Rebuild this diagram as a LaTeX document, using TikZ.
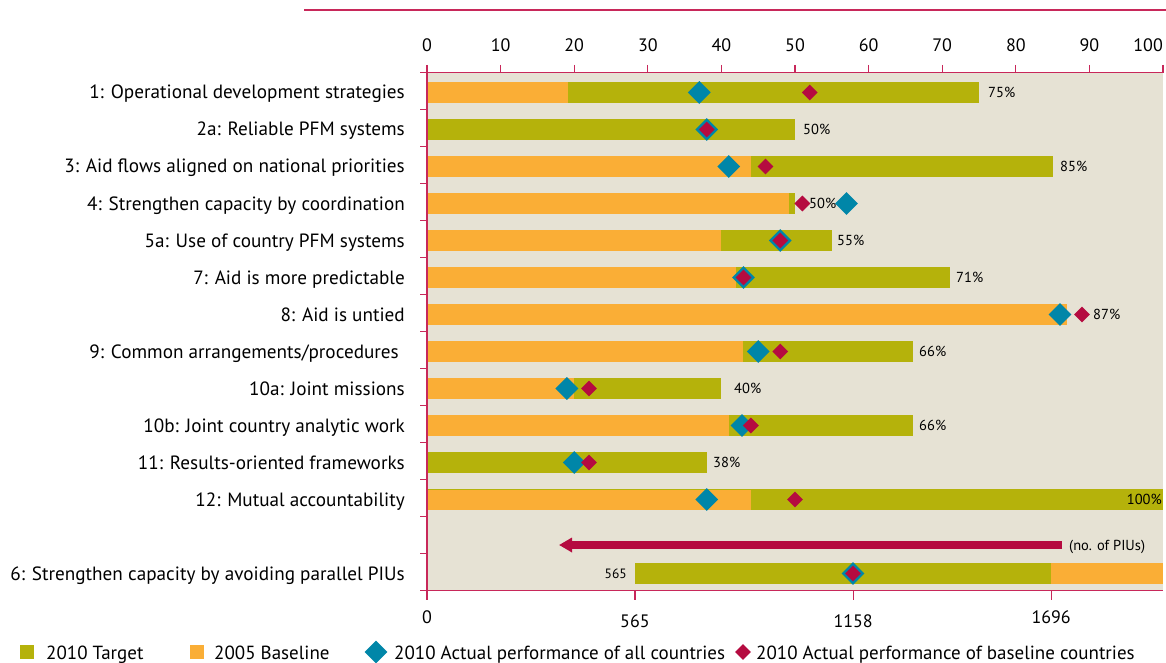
\documentclass[tikz,border=0pt]{standalone}
\usepackage{fontspec}
\setmainfont{PT Sans}
\usetikzlibrary{shapes.geometric,arrows.meta}
\definecolor{tgt}{HTML}{B5B20B}
\definecolor{base}{HTML}{FAAE36}
\definecolor{bgc}{HTML}{E6E2D4}
\definecolor{blu}{HTML}{0086A8}
\definecolor{rd}{HTML}{B50B40}
\definecolor{ax}{HTML}{C8285A}
\begin{document}
\begin{tikzpicture}[x=1pt,y=-1pt,
 lab/.style={anchor=base east,font=\fontsize{19.2}{22}\selectfont,inner sep=0},
 pct/.style={anchor=base west,font=\fontsize{14.5}{17}\selectfont,inner sep=0},
 ticklab/.style={anchor=base,font=\fontsize{18}{21}\selectfont,inner sep=0},
 leg/.style={anchor=base west,font=\fontsize{19}{22}\selectfont,inner sep=0},
 bdia/.style={diamond,fill=blu,inner sep=0,minimum width=23pt,minimum height=23pt},
 rdia/.style={diamond,fill=rd,inner sep=0,minimum width=16pt,minimum height=16pt},
 axl/.style={draw=ax,line width=1.2pt}]
\useasboundingbox (0,0) rectangle (1166,663);
% title rule
\draw[ax,line width=1.3pt] (304,10) -- (1166,10);
% panel
\fill[bgc] (427,72.7) rectangle (1163,590.7);
% bars
\foreach \k/\b/\t/\bl/\r/\o in {1/19.2/75/37/52/0, 2/0/50/38/38/0, 3/44/85/41/46/0, 4/49.2/50/57/51/0, 5/40/55/48/48/0, 6/42/71/43/43/0, 7/87/87/86/89/0, 8/43/66/45/48/0, 9/20/40/19/22/0, 10/41/66/42.8/44/0, 11/0/38/20/22/0, 12/44/100/38/50/1.2}{
  \pgfmathsetmacro\yc{55.5+37*\k}
  \fill[tgt] (427,\yc-10.5) rectangle ({427+7.36*\t},\yc+10.5);
  \ifdim\b pt>0pt
    \fill[base] (427,\yc-10.5+\o) rectangle ({427+7.36*\b},\yc+10.5);
  \fi
  \node[bdia] (b\k) at ({427+7.36*\bl},\yc) {};
  \node[rdia] (r\k) at ({427+7.36*\r},\yc) {};
}
% PIU row
\fill[tgt] (635,563) rectangle (1051,584);
\fill[base] (1051,563) rectangle (1163,584);
\node[bdia] (b14) at (853,573.5) {};
\node[rdia] (r14) at (853,573.5) {};
\node[anchor=base east,font=\fontsize{13.5}{15}\selectfont,inner sep=0] (n565) at (627,578.5) {565};
% arrow
\coordinate (arrS) at (1062,545);
\coordinate (arrE) at (559,545);
\draw[rd,line width=8pt,-{Triangle[length=13pt,width=14pt]}] (arrS) -- (arrE);
\node[pct] (piu) at (1069,550) {(no. of PIUs)};
% percentage labels
\node[pct] (p1) at (988,97.5) {75\%};
\node[pct] (p2) at (803,134.5) {50\%};
\node[pct] (p3) at (1060,171.5) {85\%};
\node[pct] (p4) at (809,208.5) {50\%};
\node[pct] (p5) at (837,245.5) {55\%};
\node[pct] (p6) at (956,282.5) {71\%};
\node[pct] (p7) at (1093,319.5) {87\%};
\node[pct] (p8) at (919,356.5) {66\%};
\node[pct] (p9) at (734,393.5) {40\%};
\node[pct] (p10) at (919,430.5) {66\%};
\node[pct] (p11) at (713,467.5) {38\%};
\node[pct,anchor=base east] (p12) at (1162,504.5) {100\%};
% row labels
\node[lab] (l1) at (405,99) {1: Operational development strategies};
\node[lab] (l2) at (405,136) {2a: Reliable PFM systems};
\node[lab] (l3) at (405,173) {3: Aid flows aligned on national priorities};
\node[lab] (l4) at (405,210) {4: Strengthen capacity by coordination};
\node[lab] (l5) at (405,247) {5a: Use of country PFM systems};
\node[lab] (l6) at (405,284) {7: Aid is more predictable};
\node[lab] (l7) at (405,321) {8: Aid is untied};
\node[lab] (l8) at (399,358) {9: Common arrangements/procedures};
\node[lab] (l9) at (405,395) {10a: Joint missions};
\node[lab] (l10) at (405,432) {10b: Joint country analytic work};
\node[lab] (l11) at (405,469) {11: Results-oriented frameworks};
\node[lab] (l12) at (405,506) {12: Mutual accountability};
\node[lab] (l14) at (405,580) {6: Strengthen capacity by avoiding parallel PIUs};
% axes
\draw[axl] (427,72.7) -- (1163,72.7);
\draw[axl] (427,72.7) -- (427,590.7);
\draw[axl] (427,590.7) -- (1163,590.7);
\foreach \i in {0,...,10}{
  \draw[axl] ({427+73.6*\i},65) -- ({427+73.6*\i},72.7);
}
\foreach \i in {0,...,9}{
  \pgfmathtruncatemacro\v{10*\i}
  \node[ticklab] (t\i) at ({427+73.6*\i},52) {\v};
}
\node[ticklab,anchor=base east] (t10) at (1163,52) {100};
\foreach \k in {0,...,14}{
  \draw[axl] (420,{72.7+37*\k}) -- (427,{72.7+37*\k});
}
\foreach \v/\yy in {0/623,565/627,1158/627,1696/623}{
  \draw[axl] ({427+0.368*\v},590.7) -- ({427+0.368*\v},600);
  \node[ticklab] (u\v) at ({427+0.368*\v},\yy) {\v};
}
% legend
\fill[tgt] (20,645) rectangle (34,659);
\node[leg] (g1) at (46,659) {2010 Target};
\fill[base] (190,645) rectangle (204,659);
\node[leg] (g2) at (214,659) {2005 Baseline};
\node[bdia] (g3d) at (376,652) {};
\node[leg] (g3) at (394,659) {2010 Actual performance of all countries};
\node[rdia] (g4d) at (743,652) {};
\node[leg] (g4) at (756,659) {2010 Actual performance of baseline countries};
\end{tikzpicture}
\end{document}
